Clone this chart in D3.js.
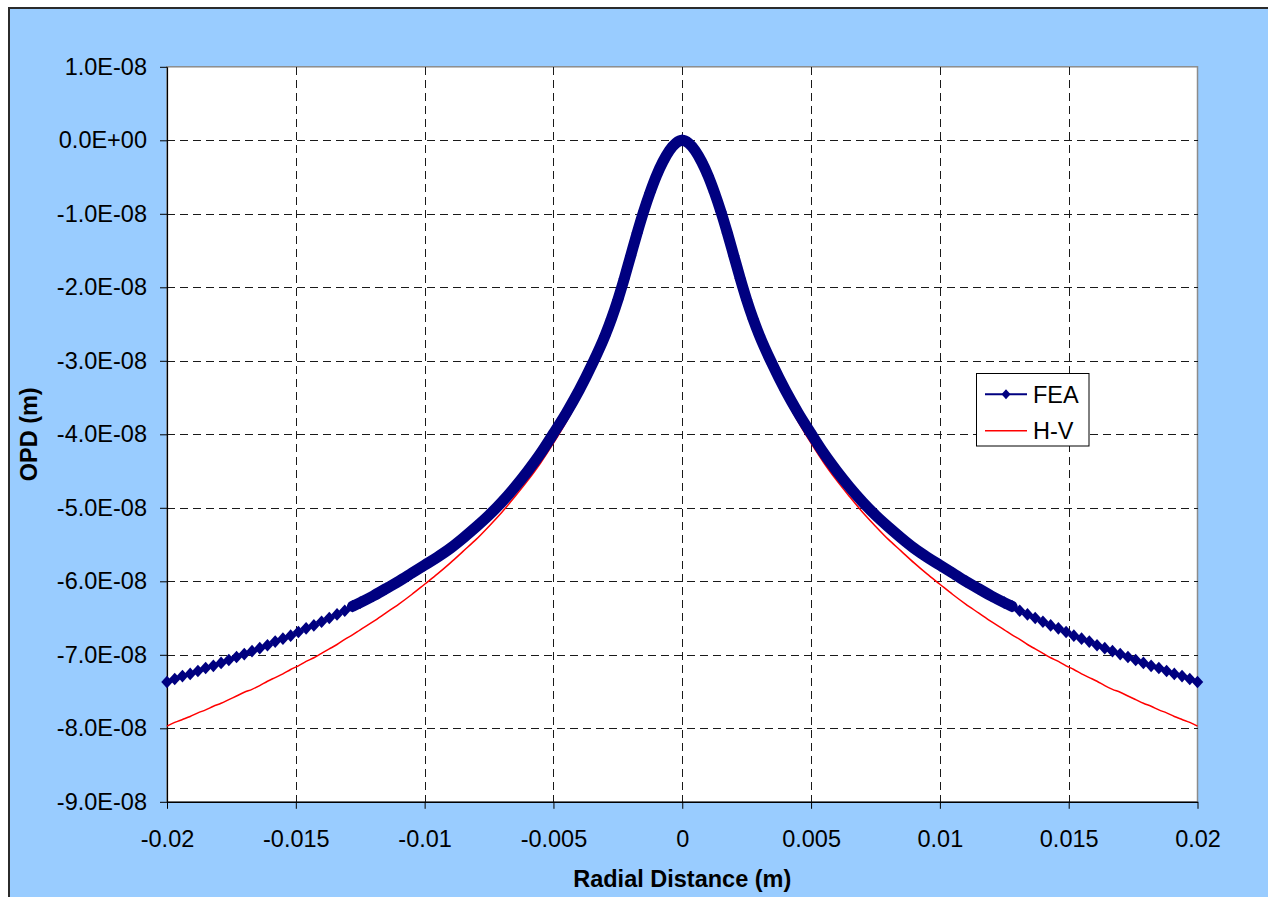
<!DOCTYPE html>
<html>
<head>
<meta charset="utf-8">
<title>OPD vs Radial Distance</title>
<script src="https://cdn.jsdelivr.net/npm/d3@7"></script>
<style>
  html, body { margin: 0; padding: 0; background: #ffffff; }
  svg { display: block; font-family: "Liberation Sans", Arial, sans-serif; }
</style>
</head>
<body>
<svg id="chart" width="1268" height="897"></svg>
<script>
// Radial sample positions (m), r >= 0. The profile is axisymmetric, so each
// sample is plotted at -r and +r.
const radius = [
  0, 0.00025, 0.0005, 0.00075, 0.001, 0.00125, 0.0015, 0.00175, 0.002, 0.00225,
  0.0025, 0.00275, 0.003, 0.0035, 0.004, 0.0045, 0.005, 0.0055, 0.006, 0.0065,
  0.007, 0.0075, 0.008, 0.0085, 0.009, 0.0095, 0.010, 0.0105, 0.011, 0.0115,
  0.012, 0.0125, 0.0128, 0.0131, 0.0134, 0.0137, 0.0140, 0.0143, 0.0146, 0.0149,
  0.0152, 0.0155, 0.0158, 0.0161, 0.0164, 0.0167, 0.0170, 0.0173, 0.0176, 0.0179,
  0.0182, 0.0185, 0.0188, 0.0191, 0.0194, 0.0197, 0.0200
];

// OPD from the finite-element model, in units of 1E-08 m
const feaOPD = [
  0, -0.04, -0.14, -0.29, -0.48, -0.71, -0.97, -1.26, -1.57, -1.88,
  -2.17, -2.43, -2.66, -3.05, -3.40, -3.71, -3.99, -4.26, -4.50, -4.72,
  -4.92, -5.10, -5.26, -5.41, -5.55, -5.67, -5.78, -5.89, -6.00, -6.10,
  -6.20, -6.29, -6.34, -6.40, -6.45, -6.50, -6.55, -6.60, -6.64, -6.69,
  -6.74, -6.78, -6.82, -6.87, -6.91, -6.95, -6.99, -7.03, -7.07, -7.11,
  -7.15, -7.18, -7.22, -7.26, -7.29, -7.33, -7.37
];

// OPD from the H-V analytic model, in units of 1E-08 m
const hvOPD = [
  0, -0.04, -0.14, -0.29, -0.48, -0.71, -0.97, -1.26, -1.58, -1.89,
  -2.19, -2.45, -2.69, -3.13, -3.51, -3.83, -4.12, -4.39, -4.63, -4.85,
  -5.06, -5.25, -5.43, -5.59, -5.75, -5.90, -6.04, -6.18, -6.31, -6.43,
  -6.55, -6.66, -6.73, -6.79, -6.86, -6.92, -6.98, -7.04, -7.09, -7.15,
  -7.20, -7.26, -7.31, -7.36, -7.42, -7.47, -7.51, -7.56, -7.61, -7.66,
  -7.70, -7.75, -7.79, -7.84, -7.88, -7.92, -7.97
];

const seriesNames = ["FEA", "H-V"];
const seriesColors = ["#000080", "#FF0000"];

const xTicks = [-0.02, -0.015, -0.01, -0.005, 0, 0.005, 0.01, 0.015, 0.02];
const xTickLabels = ["-0.02", "-0.015", "-0.01", "-0.005", "0", "0.005", "0.01", "0.015", "0.02"];
const yTicks = [1, 0, -1, -2, -3, -4, -5, -6, -7, -8, -9];
const yTickLabels = ["1.0E-08", "0.0E+00", "-1.0E-08", "-2.0E-08", "-3.0E-08", "-4.0E-08",
                     "-5.0E-08", "-6.0E-08", "-7.0E-08", "-8.0E-08", "-9.0E-08"];

// Inside this radius the FEA nodes are packed so closely that the markers merge
const denseRadius = 0.0128;

const svg = d3.select("#chart");
const plot = { left: 167, right: 1197.5, top: 66.8, bottom: 801.8 };

const x = d3.scaleLinear().domain([-0.02, 0.02]).range([plot.left, plot.right]);
const y = d3.scaleLinear().domain([-9, 1]).range([plot.bottom, plot.top]);

// Mirror a radial profile onto both sides of the centre
function mirrored(values) {
  const left = radius
    .map((r, i) => ({ r: r, v: values[i] }))
    .filter(d => d.r > 0)
    .map(d => ({ r: -d.r, v: d.v }))
    .reverse();
  const right = radius.map((r, i) => ({ r: r, v: values[i] }));
  return left.concat(right);
}
const feaPts = mirrored(feaOPD);
const hvPts = mirrored(hvOPD);

// Chart area
svg.append("rect")
  .attr("x", 9).attr("y", 8)
  .attr("width", 1300).attr("height", 950)
  .attr("fill", "#99CCFF")
  .attr("stroke", "#2b2b2b").attr("stroke-width", 2);

// Plot area
svg.append("rect")
  .attr("x", plot.left).attr("y", plot.top)
  .attr("width", plot.right - plot.left).attr("height", plot.bottom - plot.top)
  .attr("fill", "#ffffff")
  .attr("stroke", "#8c8c8c").attr("stroke-width", 1.5);

// Dashed gridlines
const grid = svg.append("g")
  .attr("stroke", "#1a1a1a").attr("stroke-width", 1)
  .attr("stroke-dasharray", "8,5").attr("shape-rendering", "crispEdges");
grid.selectAll("line.vx").data(xTicks.slice(1, -1)).join("line")
  .attr("class", "vx")
  .attr("x1", d => Math.round(x(d)) + 0.5).attr("x2", d => Math.round(x(d)) + 0.5)
  .attr("y1", plot.top).attr("y2", plot.bottom);
grid.selectAll("line.hy").data(yTicks.slice(1, -1)).join("line")
  .attr("class", "hy")
  .attr("x1", plot.left).attr("x2", plot.right)
  .attr("y1", d => Math.round(y(d)) + 0.5).attr("y2", d => Math.round(y(d)) + 0.5);

// Axes
const fontSize = "23.5px";
const yAxis = d3.axisLeft(y)
  .tickValues(yTicks)
  .tickFormat((d, i) => yTickLabels[i])
  .tickSize(7).tickSizeOuter(0).tickPadding(13);
const gy = svg.append("g").attr("transform", `translate(${plot.left},0)`).call(yAxis);
gy.selectAll("text").attr("font-size", fontSize).attr("fill", "#000")
  .attr("font-family", "'Liberation Sans', Arial, sans-serif");
gy.selectAll("line").attr("stroke", "#000");
gy.select(".domain").attr("stroke", "#000").attr("stroke-width", 1.2);

const xAxis = d3.axisBottom(x)
  .tickValues(xTicks)
  .tickFormat((d, i) => xTickLabels[i])
  .tickSize(7).tickSizeOuter(0).tickPadding(22);
const gx = svg.append("g").attr("transform", `translate(0,${plot.bottom})`).call(xAxis);
gx.selectAll("text").attr("font-size", fontSize).attr("fill", "#000")
  .attr("font-family", "'Liberation Sans', Arial, sans-serif");
gx.selectAll("line").attr("stroke", "#000");
gx.select(".domain").attr("stroke", "#000").attr("stroke-width", 1.2);

// Axis titles
svg.append("text")
  .attr("x", (plot.left + plot.right) / 2).attr("y", 887)
  .attr("text-anchor", "middle")
  .attr("font-size", fontSize).attr("font-weight", "bold")
  .text("Radial Distance (m)");
svg.append("text")
  .attr("transform", `translate(37,${(plot.top + plot.bottom) / 2}) rotate(-90)`)
  .attr("text-anchor", "middle")
  .attr("font-size", fontSize).attr("font-weight", "bold")
  .text("OPD (m)");

// Series
const line = d3.line()
  .x(d => x(d.r))
  .y(d => y(d.v))
  .curve(d3.curveMonotoneX);

// H-V model
svg.append("path")
  .datum(hvPts)
  .attr("fill", "none")
  .attr("stroke", seriesColors[1]).attr("stroke-width", 1.5)
  .attr("d", line);

// FEA connecting line
svg.append("path")
  .datum(feaPts)
  .attr("fill", "none")
  .attr("stroke", seriesColors[0]).attr("stroke-width", 1.5)
  .attr("d", line);

// FEA dense region: the overlapping markers read as one solid band
svg.append("path")
  .datum(feaPts.filter(d => Math.abs(d.r) <= denseRadius + 1e-9))
  .attr("fill", "none")
  .attr("stroke", seriesColors[0]).attr("stroke-width", 11)
  .attr("stroke-linejoin", "round").attr("stroke-linecap", "round")
  .attr("d", line);

// Diamond marker
const diamond = {
  draw(ctx, size) {
    const h = Math.sqrt(size);
    ctx.moveTo(0, -h * 0.55);
    ctx.lineTo(h * 0.5, 0);
    ctx.lineTo(0, h * 0.55);
    ctx.lineTo(-h * 0.5, 0);
    ctx.closePath();
  }
};

svg.append("g")
  .selectAll("path")
  .data(feaPts)
  .join("path")
  .attr("transform", d => `translate(${x(d.r)},${y(d.v)})`)
  .attr("d", d3.symbol(diamond, 132))
  .attr("fill", seriesColors[0]);

// Legend
const legend = svg.append("g");
legend.append("rect")
  .attr("x", 976.5).attr("y", 373.5)
  .attr("width", 112.5).attr("height", 72.5)
  .attr("fill", "#ffffff").attr("stroke", "#000").attr("stroke-width", 1);
const legendRows = [394.3, 430.7];
seriesNames.forEach((name, i) => {
  legend.append("line")
    .attr("x1", 985).attr("x2", 1027)
    .attr("y1", legendRows[i]).attr("y2", legendRows[i])
    .attr("stroke", seriesColors[i]).attr("stroke-width", i === 0 ? 2 : 1.5);
  if (i === 0) {
    legend.append("path")
      .attr("transform", `translate(1006,${legendRows[i]})`)
      .attr("d", d3.symbol(diamond, 81))
      .attr("fill", seriesColors[i]);
  }
  legend.append("text")
    .attr("x", 1033).attr("y", legendRows[i] + 8.5)
    .attr("font-size", fontSize)
    .text(name);
});
</script>
</body>
</html>
